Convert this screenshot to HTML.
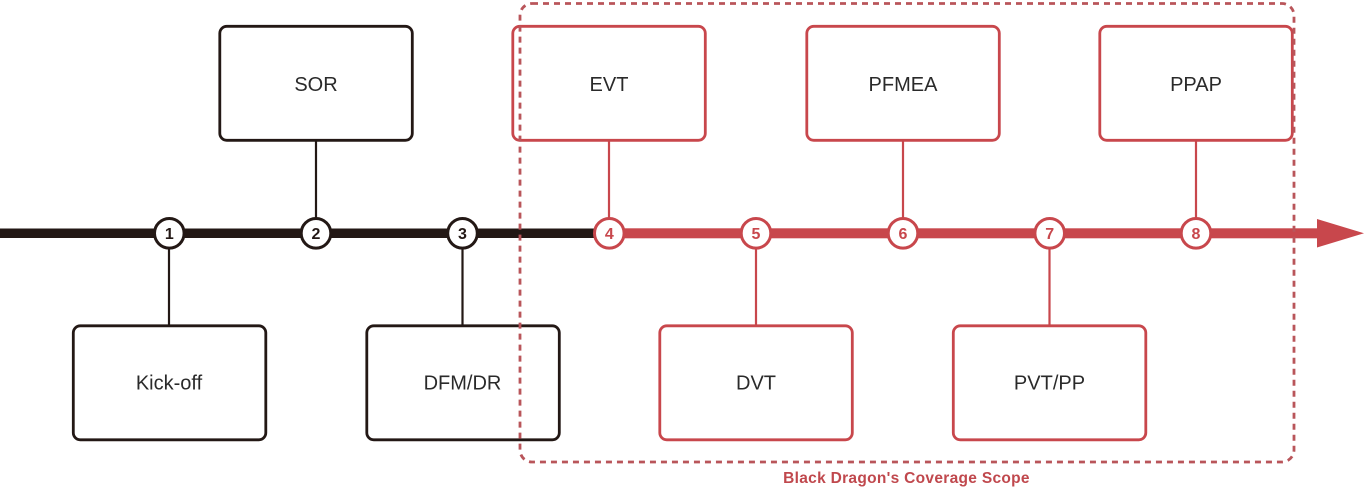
<!DOCTYPE html>
<html>
<head>
<meta charset="utf-8">
<style>
  html,body{margin:0;padding:0;background:#fff;}
  body{width:1366px;height:490px;overflow:hidden;}
  svg{display:block;}
  .lbl{font-family:"Liberation Sans",Arial,sans-serif;font-size:20px;fill:#2a2a2a;text-anchor:middle;}
  .num{font-family:"Liberation Sans",Arial,sans-serif;font-size:16px;font-weight:bold;text-anchor:middle;}
</style>
</head>
<body>
<svg width="1366" height="490" viewBox="0 0 1366 490" xmlns="http://www.w3.org/2000/svg">
  <!-- connectors black -->
  <g stroke="#231815" stroke-width="2.2">
    <line x1="316" y1="141" x2="316" y2="222"/>
    <line x1="169" y1="245" x2="169" y2="325"/>
    <line x1="462.5" y1="245" x2="462.5" y2="325"/>
  </g>
  <!-- connectors red -->
  <g stroke="#c8474c" stroke-width="2.2">
    <line x1="609" y1="141" x2="609" y2="222"/>
    <line x1="903" y1="141" x2="903" y2="222"/>
    <line x1="1196" y1="141" x2="1196" y2="222"/>
    <line x1="756" y1="245" x2="756" y2="325"/>
    <line x1="1049.5" y1="245" x2="1049.5" y2="325"/>
  </g>

  <!-- timeline -->
  <rect x="0" y="228.5" width="600" height="9.5" fill="#231815"/>
  <rect x="615" y="228.3" width="708" height="10" fill="#c8474c"/>
  <polygon points="1317,219 1364,233.3 1317,247.5" fill="#c8474c"/>

  <!-- black boxes -->
  <g fill="#fff" stroke="#231815" stroke-width="2.8">
    <rect x="219.8" y="26.3" width="192.5" height="114" rx="7"/>
    <rect x="73.3" y="325.8" width="192.5" height="114" rx="7"/>
    <rect x="366.8" y="325.8" width="192.5" height="114" rx="7"/>
  </g>
  <!-- red boxes -->
  <g fill="#fff" stroke="#c8474c" stroke-width="2.8">
    <rect x="512.8" y="26.3" width="192.5" height="114" rx="7"/>
    <rect x="806.8" y="26.3" width="192.5" height="114" rx="7"/>
    <rect x="1099.8" y="26.3" width="192.5" height="114" rx="7"/>
    <rect x="659.8" y="325.8" width="192.5" height="114" rx="7"/>
    <rect x="953.3" y="325.8" width="192.5" height="114" rx="7"/>
  </g>

  <!-- labels -->
  <text class="lbl" x="316" y="91">SOR</text>
  <text class="lbl" x="609" y="91">EVT</text>
  <text class="lbl" x="903" y="91">PFMEA</text>
  <text class="lbl" x="1196" y="91">PPAP</text>
  <text class="lbl" x="169" y="389.5">Kick-off</text>
  <text class="lbl" x="462.5" y="389.5">DFM/DR</text>
  <text class="lbl" x="756" y="389.5">DVT</text>
  <text class="lbl" x="1049.5" y="389.5">PVT/PP</text>

  <!-- circles -->
  <g fill="#fff" stroke="#231815" stroke-width="3">
    <circle cx="169.3" cy="233.3" r="14.8"/>
    <circle cx="316" cy="233.3" r="14.8"/>
    <circle cx="462.5" cy="233.3" r="14.8"/>
  </g>
  <g fill="#fff" stroke="#c8474c" stroke-width="3">
    <circle cx="609.3" cy="233.3" r="14.8"/>
    <circle cx="756" cy="233.3" r="14.8"/>
    <circle cx="903" cy="233.3" r="14.8"/>
    <circle cx="1049.7" cy="233.3" r="14.8"/>
    <circle cx="1196" cy="233.3" r="14.8"/>
  </g>
  <g fill="#231815">
    <text class="num" x="169.3" y="239">1</text>
    <text class="num" x="316" y="239">2</text>
    <text class="num" x="462.5" y="239">3</text>
  </g>
  <g fill="#c8474c">
    <text class="num" x="609.3" y="239">4</text>
    <text class="num" x="756" y="239">5</text>
    <text class="num" x="903" y="239">6</text>
    <text class="num" x="1049.7" y="239">7</text>
    <text class="num" x="1196" y="239">8</text>
  </g>

  <!-- dashed coverage scope -->
  <rect x="520" y="3.5" width="774" height="458.5" rx="12" fill="none" stroke="#b9555a" stroke-width="2.8" stroke-dasharray="6 5"/>
  <text x="906.5" y="483" font-family="'Liberation Sans',Arial,sans-serif" font-size="15.5px" font-weight="bold" fill="#c0484d" text-anchor="middle" letter-spacing="0.3">Black Dragon's Coverage Scope</text>
</svg>
</body>
</html>
